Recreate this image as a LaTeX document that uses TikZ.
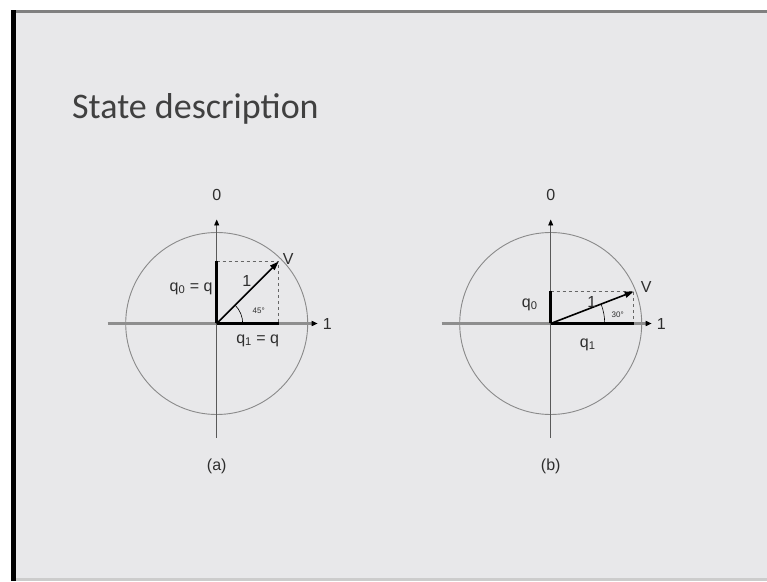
\documentclass[tikz,border=0pt]{standalone}
\usepackage{fontspec}
\setmainfont{Liberation Sans}
\newfontfamily\slidefont{Carlito}
\usetikzlibrary{arrows.meta}
\definecolor{slidebg}{HTML}{E8E8EA}
\definecolor{titlegray}{HTML}{404040}
\definecolor{ringgray}{HTML}{8A8A8A}
\definecolor{axisgray}{HTML}{8E8E8E}
\definecolor{inkgray}{HTML}{2E2E2E}
\tikzset{
  ring/.style={ringgray,line width=.9pt},
  haxis/.style={axisgray,line width=2.2pt,-{Triangle[length=6pt,width=5pt,color=black]}},
  vaxis/.style={black!65,line width=.8pt,-{Triangle[length=6pt,width=5pt,color=black]}},
  comp/.style={black,line width=2.6pt},
  vec/.style={black,line width=1.6pt,-{Triangle[length=9pt,width=6pt]}},
  guide/.style={black!60,dashed,line width=.7pt},
  lbl/.style={text=inkgray,font=\fontsize{16}{16}\selectfont,inner sep=1pt},
  ang/.style={text=inkgray,font=\fontsize{8}{8}\selectfont,inner sep=0pt}
}
\begin{document}
\begin{tikzpicture}[x=1pt,y=1pt]
\useasboundingbox (0,0) rectangle (767,581);
% slide frame
\fill[white] (0,0) rectangle (767,581);
\fill[slidebg] (16,3) rectangle (767,568);
\fill[black!50] (11,568) rectangle (767,571);
\fill[black] (11,0) rectangle (16,571);
\fill[black!20] (16,0) rectangle (767,3);
\node[anchor=base west,inner sep=0pt,text=titlegray,font=\slidefont\fontsize{36}{36}\selectfont] (title) at (72,462) {State description};
% circle, axes and captions of both pictures
\foreach\n/\cx/\cap in{a/216.7/(a),b/550.7/(b)}{
  \coordinate (o\n) at (\cx,257.5);
  \coordinate (w\n) at (\cx-109,257.5);\coordinate (e\n) at (\cx+101,257.5);
  \coordinate (s\n) at (\cx,143.5);\coordinate (t\n) at (\cx,361.5);
  \draw[ring] (o\n) circle[radius=91pt];
  \draw[haxis] (w\n) -- (e\n);
  \draw[vaxis] (s\n) -- (t\n);
  \node[lbl] (zero\n) at (\cx,386) {0};
  \node[lbl,anchor=west] (one\n) at (\cx+105,257.5) {1};
  \node[lbl] (cap\n) at (\cx,115) {\cap};
}
% (a) 45 degrees
\begin{scope}[shift={(oa)}]
\coordinate (va) at (62,62);\coordinate (pa0) at (0,62);\coordinate (pa1) at (62,0);
\draw[guide] (pa0) -- (va) -- (pa1);
\draw[comp] (oa) -- (pa0);\draw[comp] (oa) -- (pa1);
\draw[vec] (oa) -- (va);
\draw[black,line width=.6pt] (26,0) arc[start angle=0,end angle=45,radius=26pt];
\node[lbl,anchor=west] (Va) at (65,65) {V};
\node[lbl] (la) at (30,43) {1};
\node[ang] (anga) at (42,13) {45°};
\node[lbl,anchor=east] (qa0) at (-3,35) {q\textsubscript{0} = q};
\node[lbl] (qa1) at (41,-17) {q\textsubscript{1} = q};
\end{scope}
% (b) 30 degrees
\begin{scope}[shift={(ob)}]
\coordinate (vb) at (83,32);\coordinate (pb0) at (0,32);\coordinate (pb1) at (83,0);
\draw[guide] (pb0) -- (vb) -- (pb1);
\draw[comp] (ob) -- (pb0);\draw[comp] (ob) -- (pb1);
\draw[vec] (ob) -- (vb);
\draw[black,line width=.6pt] (54,0) arc[start angle=0,end angle=21,radius=54pt];
\node[lbl,anchor=west] (Vb) at (89,37) {V};
\node[lbl] (lb) at (41,22) {1};
\node[ang] (angb) at (67,9) {30°};
\node[lbl] (qb0) at (-21,19) {q\textsubscript{0}};
\node[lbl] (qb1) at (37,-21) {q\textsubscript{1}};
\end{scope}
\end{tikzpicture}
\end{document}
